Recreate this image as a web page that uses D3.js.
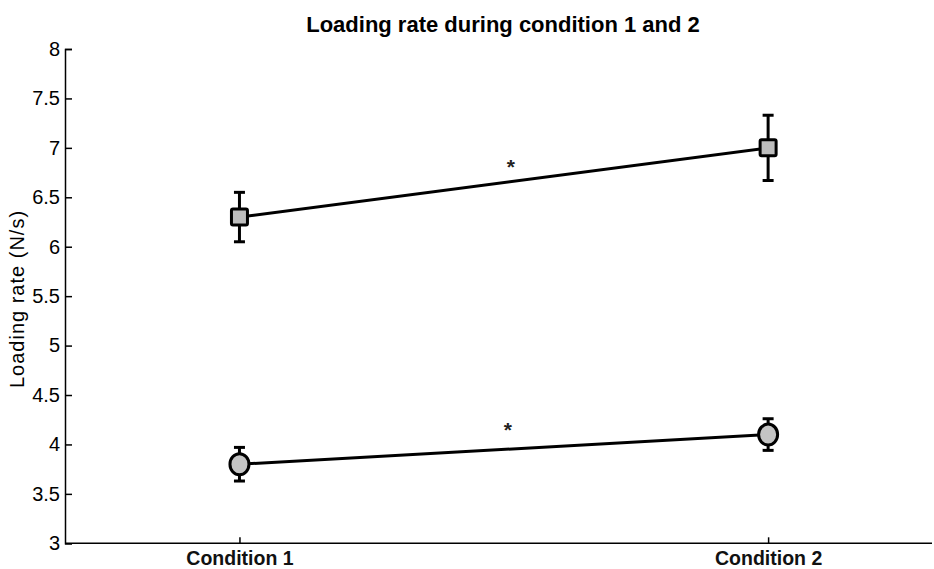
<!DOCTYPE html>
<html>
<head>
<meta charset="utf-8">
<script src="https://cdn.jsdelivr.net/npm/d3@7"></script>
<style>
  body { margin: 0; background: #fff; }
  text { font-family: "Liberation Sans", Arial, sans-serif; }
</style>
</head>
<body>
<div id="chart"></div>
<script>
// data
var conditions = ["Condition 1", "Condition 2"];
var squareMeans = [6.3, 7.0];
var squareErr = [0.25, 0.33];
var circleMeans = [3.8, 4.1];
var circleErr = [0.17, 0.16];
var yTicks = [3, 3.5, 4, 4.5, 5, 5.5, 6, 6.5, 7, 7.5, 8];
var starY = [6.86, 4.2]; // significance markers

var width = 934, height = 569;
var margin = { top: 49, right: 2, bottom: 25, left: 65 };

var svg = d3.select("#chart")
    .append("svg")
    .attr("width", width)
    .attr("height", height);

var x = d3.scaleLinear()
    .domain([0.67, 2.31])
    .range([margin.left, width - margin.right]);
var y = d3.scaleLinear()
    .domain([3, 8])
    .range([height - margin.bottom - 0.7, margin.top]);

// Y axis
var yAxis = svg.append("g")
    .attr("transform", "translate(" + margin.left + ",0)")
    .call(d3.axisLeft(y).tickValues(yTicks).tickSize(-7).tickPadding(5)
        .tickFormat(function (d) { return d3.format("")(d); }));
yAxis.attr("font-size", 20);
yAxis.select(".domain").attr("stroke", "#000").attr("stroke-width", 1.5);
yAxis.selectAll(".tick line").attr("stroke", "#000").attr("stroke-width", 1.5);
yAxis.selectAll(".tick text")
    .style("font-size", "20px")
    .attr("fill", "#000");

// X axis
var xAxis = svg.append("g")
    .attr("transform", "translate(0," + y(3) + ")")
    .call(d3.axisBottom(x).tickValues([1, 2]).tickSize(-6).tickPadding(8)
        .tickFormat(function (d) { return conditions[d - 1]; }));
xAxis.select(".domain").attr("stroke", "#000").attr("stroke-width", 1.5)
    .attr("d", "M" + margin.left + ",0H" + (width - margin.right));
xAxis.selectAll(".tick line").attr("stroke", "#000").attr("stroke-width", 1.5);
xAxis.selectAll(".tick text")
    .attr("font-size", 19.5)
    .attr("font-weight", "bold")
    .attr("fill", "#111");

// title
svg.append("text")
    .attr("x", 503)
    .attr("y", 32)
    .attr("text-anchor", "middle")
    .attr("font-size", 22)
    .attr("font-weight", "bold")
    .text("Loading rate during condition 1 and 2");

// y label
svg.append("text")
    .attr("transform", "translate(24," + 299 + ") rotate(-90)")
    .attr("text-anchor", "middle")
    .attr("font-size", 20)
    .attr("letter-spacing", 1)
    .attr("fill", "#000")
    .text("Loading rate (N/s)");

function drawSeries(means, errs, shape) {
    var data = means.map(function (m, i) { return { i: i + 1, m: m, e: errs[i] }; });
    var g = svg.append("g");
    g.append("path")
        .datum(data)
        .attr("fill", "none")
        .attr("stroke", "#000")
        .attr("stroke-width", 3)
        .attr("d", d3.line()
            .x(function (d) { return x(d.i); })
            .y(function (d) { return y(d.m); }));
    // error bars
    var eb = g.selectAll(".eb").data(data).enter().append("g");
    eb.append("line")
        .attr("x1", function (d) { return x(d.i); })
        .attr("x2", function (d) { return x(d.i); })
        .attr("y1", function (d) { return y(d.m + d.e); })
        .attr("y2", function (d) { return y(d.m - d.e); })
        .attr("stroke", "#000").attr("stroke-width", 3);
    [1, -1].forEach(function (s) {
        eb.append("line")
            .attr("x1", function (d) { return x(d.i) - 5.5; })
            .attr("x2", function (d) { return x(d.i) + 5.5; })
            .attr("y1", function (d) { return y(d.m + s * d.e); })
            .attr("y2", function (d) { return y(d.m + s * d.e); })
            .attr("stroke", "#000").attr("stroke-width", 3);
    });
    // markers
    if (shape === "square") {
        g.selectAll(".mk").data(data).enter().append("rect")
            .attr("x", function (d) { return x(d.i) - 8; })
            .attr("y", function (d) { return y(d.m) - 8; })
            .attr("width", 16).attr("height", 16)
            .attr("rx", 1.5)
            .attr("fill", "#bdbdbd")
            .attr("stroke", "#000").attr("stroke-width", 3);
    } else {
        g.selectAll(".mk").data(data).enter().append("ellipse")
            .attr("cx", function (d) { return x(d.i); })
            .attr("cy", function (d) { return y(d.m); })
            .attr("rx", 9.5).attr("ry", 10.5)
            .attr("fill", "#c4c4c4")
            .attr("stroke", "#000").attr("stroke-width", 3);
    }
}

drawSeries(squareMeans, squareErr, "square");
drawSeries(circleMeans, circleErr, "circle");

// asterisks
svg.selectAll(".star").data(starY).enter().append("text")
    .attr("x", function (d, i) { return x(1.5) + (i === 0 ? 7 : 4); })
    .attr("y", function (d) { return y(d) + 12; })
    .attr("text-anchor", "middle")
    .attr("font-size", 21)
    .attr("font-weight", "bold")
    .attr("fill", "#222")
    .text("*");
</script>
</body>
</html>
